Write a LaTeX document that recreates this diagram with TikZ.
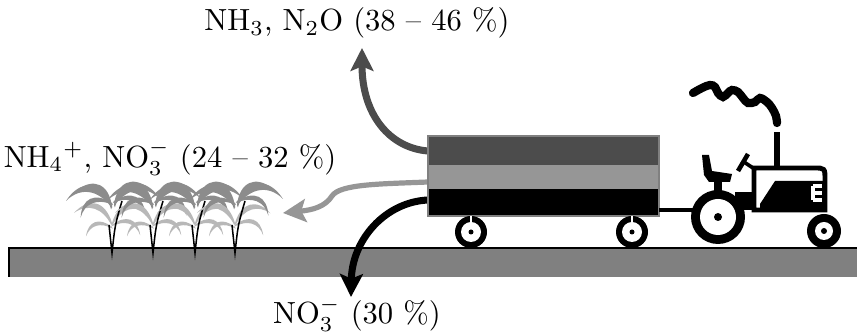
\documentclass[tikz,border=0pt]{standalone}
\usetikzlibrary{arrows.meta}
\definecolor{gasgrey}{gray}{0.30}
\definecolor{plantgrey}{gray}{0.59}
\definecolor{soilgrey}{gray}{0.50}
\definecolor{leafdark}{gray}{0.55}
\definecolor{leaflight}{gray}{0.72}
\tikzset
{
    tag/.style   = {inner sep=0pt, align=center},
    flux/.style  = {line width=2.3pt, -{Stealth[length=7.5pt, width=7.5pt, inset=1.5pt]}},
    pics/wheel/.style n args = {3}{code={
        \fill (0,0) circle[radius=#1];
        \fill[white] (0,0) circle[radius=#2];
        \fill (0,0) circle[radius=#3];
    }},
    % one blade, #1 = 1 points right, -1 points left
    pics/leaf/.style = {code={
        \fill (0,0) .. controls (12*#1,-24) and (32*#1,-26) .. (46*#1,-4)
                    .. controls (32*#1,-18) and (14*#1,-16) .. (0,3) -- cycle;
    }},
    pics/plant/.style = {code={
        % lower leaves
        \pic[fill=leaflight, scale=0.8, rotate=10] at (0,-30) {leaf=1};
        \pic[fill=leaflight, scale=0.65, rotate=-25] at (0,-28) {leaf=1};
        \pic[fill=leaflight, scale=0.85, rotate=-10] at (0,-30) {leaf=-1};
        \pic[fill=leaflight, scale=0.6, rotate=25] at (0,-26) {leaf=-1};
        % stems
        \draw[line width=0.5pt] (-3,-28) -- (0,0) .. controls (3,-28) .. (10,-52);
        % upper leaves
        \pic[fill=leafdark, scale=0.85, rotate=20] at (2,-48) {leaf=1};
        \pic[fill=leafdark] at (2,-50) {leaf=1};
        \pic[fill=leafdark, scale=0.75, rotate=-30] at (2,-52) {leaf=1};
        \pic[fill=leafdark, scale=0.85, rotate=-20] at (0,-46) {leaf=-1};
        \pic[fill=leafdark] at (0,-48) {leaf=-1};
        \pic[fill=leafdark, scale=0.75, rotate=30] at (0,-50) {leaf=-1};
    }}
}

\begin{document}
\begin{tikzpicture}[x=0.327pt, y=-0.327pt]
    \useasboundingbox (0,0) rectangle (857,333);

    % soil
    \fill[soilgrey] (9,248) rectangle (857,277);
    \draw[line width=0.8pt] (857,248) -- (9,248) -- (9,277);

    % crop
    \foreach \px in {112,153,195,235}
        \pic at (\px,253) {plant};

    % labels
    \node[tag] (gas)   at (357,23)  {NH$_3$, N$_2$O (38 -- 46 \%)};
    \node[tag] (crop)  at (170,158) {NH$_4{}^+$, NO$_3^-$ (24 -- 32 \%)};
    \node[tag] (leach) at (357,314) {NO$_3^-$ (30 \%)};

    % nitrogen fluxes out of the spreader
    \coordinate (volat)    at (428,151);
    \coordinate (uptake)   at (428,182);
    \coordinate (leached)  at (428,200);
    \coordinate (gastip)   at (362,48);
    \coordinate (croptip)  at (283,213);
    \coordinate (leachtip) at (351,297);

    \draw[flux, gasgrey] (volat) .. controls (390,148) and (362,115) .. (gastip);
    \draw[flux, plantgrey, line width=1.7pt] (uptake) .. controls (380,184) and (340,184) .. (332,196)
        .. controls (325,207) and (312,210) .. (croptip);
    \draw[flux] (leached) .. controls (385,202) and (352,240) .. (leachtip);

    % spreader
    \fill[gasgrey]   (428,136) rectangle (659,165);
    \fill[plantgrey] (428,165) rectangle (659,189);
    \fill            (428,189) rectangle (659,216);
    \draw[gray, line width=0.4pt] (428,136) rectangle (659,216);
    \foreach \px in {471,632} {
        \pic at (\px,232) {wheel={16}{10}{2.5}};
        \draw[white, line width=0.5pt] (\px,216) -- (\px,227);
    }
    \draw[line width=1pt] (659,210) -- (700,210);

    % tractor
    \draw[line width=2.7pt, line cap=round] plot[smooth, tension=0.6] coordinates
        {(693,93) (702,88) (710,85) (715,87) (718,93) (723,97) (728,93) (732,90)
         (738,92) (743,98) (748,103) (755,102) (760,98) (767,102) (772,108)
         (776,116) (777,123)};
    \fill (774,132) rectangle (780,168);
    \filldraw[fill=white, line width=1.6pt] (754,210) -- (754,168) -- (814,168)
        .. controls (825,168) .. (825,180) -- (825,210) -- cycle;
    \fill (760,204) -- (775,181) -- (825,181) -- (825,210) -- (760,210) -- cycle;
    \draw[white, line width=1pt] (813,186) -- (813,200)
        (813,186) -- (822,186) (813,193) -- (822,193) (813,200) -- (822,200);
    \fill (702,155) -- (709,155) -- (712,171) -- (732,174) -- (730,182)
        -- (709,182) -- (704,175) -- cycle;
    \fill (714,180) rectangle (722,192);
    \draw[line width=1.5pt] (738,171) -- (748,154);
    \draw[line width=1.2pt] (744,162) -- (756,170);
    \fill (735,192) rectangle (756,210);
    \pic at (718,217) {wheel={27}{18}{4}};
    \pic at (824,231) {wheel={17}{9}{3}};
\end{tikzpicture}
\end{document}
